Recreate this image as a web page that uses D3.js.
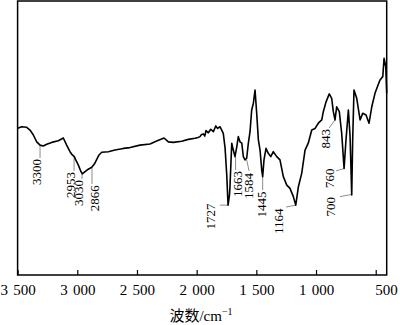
<!DOCTYPE html>
<html>
<head>
<meta charset="utf-8">
<script src="https://cdn.jsdelivr.net/npm/d3@7"></script>
<style>
  body { margin: 0; background: #fff; }
  text { font-family: "Liberation Serif", "Times New Roman", serif; }
</style>
</head>
<body>
<div id="chart"></div>
<script>
// IR spectrum (wavenumber cm-1, transmittance %)
var wavenumber = [3499, 3466, 3424, 3396, 3368, 3340, 3312, 3285, 3256, 3214, 3159, 3117, 3089, 3061,
    3042, 3025, 3013, 2991, 2969, 2958, 2935, 2908, 2879, 2857, 2837, 2818, 2795, 2740, 2684, 2614,
    2558, 2475, 2391, 2335, 2273, 2237, 2196, 2125, 2070, 2014, 1989, 1972, 1959, 1944, 1932, 1922,
    1902, 1882, 1860, 1840, 1824, 1804, 1790, 1777, 1762, 1748, 1737, 1725, 1721, 1706, 1693, 1679,
    1664, 1651, 1637, 1622, 1609, 1595, 1581, 1567, 1553, 1539, 1525, 1511, 1497, 1483, 1469, 1455,
    1447, 1436, 1419, 1400, 1379, 1358, 1329, 1302, 1274, 1245, 1218, 1190, 1170, 1148, 1120, 1092,
    1065, 1036, 1008, 981, 952, 939, 916, 889, 869, 855, 841, 827, 805, 785, 765, 749, 729, 715, 701,
    693, 682, 659, 631, 609, 581, 556, 533, 506, 486, 464, 441, 430, 416, 408];
var transmittance = [53.6, 54.1, 53.9, 52.9, 51.1, 48.6, 47.4, 47.1, 47.7, 48.4, 49.0, 50.0, 47.4, 45.0,
    43.8, 43.2, 42.0, 40.1, 37.7, 36.9, 37.7, 38.6, 39.3, 40.5, 42.2, 43.8, 44.8, 45.0, 45.6, 46.2,
    46.5, 47.4, 47.8, 48.9, 50.0, 48.6, 48.4, 48.8, 49.5, 49.9, 50.2, 50.5, 51.3, 51.5, 50.7, 52.7,
    51.9, 53.2, 52.3, 54.4, 53.5, 54.1, 52.9, 51.7, 46.4, 36.5, 25.5, 29.2, 32.2, 48.1, 45.6, 43.2,
    46.8, 50.5, 48.6, 48.1, 43.2, 42.0, 42.6, 48.1, 52.3, 60.2, 62.7, 67.5, 59.0, 49.3, 45.6, 38.3,
    35.9, 42.0, 46.2, 44.4, 43.2, 45.0, 43.2, 42.0, 35.9, 32.8, 31.6, 28.6, 25.5, 32.2, 37.1, 45.6,
    48.1, 52.9, 53.5, 55.4, 56.6, 59.6, 63.2, 66.1, 64.5, 59.6, 56.6, 61.4, 59.6, 51.7, 38.9, 49.3, 60.2, 50.7, 29.2,
    49.3, 67.5, 64.5, 56.6, 59.0, 58.4, 55.4, 61.4, 66.3, 68.7, 71.2, 72.4, 79.1, 76.0, 66.3];

var tickValues = [3500, 3000, 2500, 2000, 1500, 1000, 500];
var tickLabels = ["3 500", "3 000", "2 500", "2 000", "1 500", "1 000", "500"];

// peak labels: leader line from (lineW0, lineT0) to (lineW1, lineT1), text end at (textW, textT)
var peakText = ["3300", "2953", "3030", "2866", "1727", "1663", "1584", "1445", "1164", "843", "760", "700"];
var lineW0 = [3312, 3027, 2960, 2877, 1737, 1674, 1581, 1447, 1170, 841, 761, 701];
var lineT0 = [47.1, 43.1, 36.9, 39.4, 25.5, 43.1, 42.0, 35.8, 25.5, 56.6, 38.9, 29.4];
var lineW1 = [3312, 3027, 2960, 2877, 1805, 1674, 1561, 1447, 1251, 891, 832, 799];
var lineT1 = [42.7, 38.0, 35.0, 33.2, 25.5, 38.3, 38.0, 31.0, 24.8, 53.6, 38.0, 28.6];
var textW = [3308, 3023, 2948, 2814, 1846, 1624, 1528, 1423, 1274, 883, 853, 837];
var textT = [42.3, 37.6, 34.7, 32.8, 26.1, 38.0, 37.2, 30.5, 24.3, 53.3, 38.9, 28.5];

var width = 400, height = 325;
var plotLeft = 17.6, plotRight = 386.7, plotTop = 1, plotBottom = 275;

var x = d3.scaleLinear().domain([3500, 408]).range([plotLeft, plotRight]);
var y = d3.scaleLinear().domain([0, 100]).range([plotBottom, plotTop]);

var svg = d3.select("#chart")
    .append("svg")
    .attr("width", width)
    .attr("height", height);

// x axis with inward ticks
var axis = svg.append("g")
    .attr("transform", "translate(0," + plotBottom + ")")
    .call(d3.axisBottom(x)
        .tickValues(tickValues)
        .tickSizeInner(-5)
        .tickSizeOuter(0)
        .tickPadding(9)
        .tickFormat(function(d, i){ return tickLabels[i]; }));

axis.select(".domain").remove();
axis.selectAll(".tick line").attr("stroke", "#000").attr("stroke-width", 1.2);
axis.selectAll(".tick text")
    .attr("fill", "#000")
    .style("font-family", '"Liberation Serif", "Times New Roman", serif')
    .style("font-size", "15px")
    .style("word-spacing", "1.5px");
axis.selectAll(".tick text")
    .filter(function(d, i){ return i == tickValues.length - 1; })
    .attr("text-anchor", "start")
    .attr("x", -1);

// frame
svg.append("rect")
    .attr("x", plotLeft)
    .attr("y", plotTop)
    .attr("width", plotRight - plotLeft)
    .attr("height", plotBottom - plotTop)
    .attr("fill", "none")
    .attr("stroke", "#000")
    .attr("stroke-width", 1.5);

// leader lines
var peaks = d3.range(peakText.length);

svg.append("g")
    .selectAll("line")
    .data(peaks)
    .enter()
    .append("line")
    .attr("x1", function(i){ return x(lineW0[i]); })
    .attr("y1", function(i){ return y(lineT0[i]); })
    .attr("x2", function(i){ return x(lineW1[i]); })
    .attr("y2", function(i){ return y(lineT1[i]); })
    .attr("stroke", "#808080")
    .attr("stroke-width", 0.9);

// spectrum
var line = d3.line()
    .x(function(d, i){ return x(wavenumber[i]); })
    .y(function(d){ return y(d); });

svg.append("path")
    .datum(transmittance)
    .attr("d", line)
    .attr("fill", "none")
    .attr("stroke", "#000")
    .attr("stroke-width", 1.6)
    .attr("stroke-linejoin", "round");

// peak labels, rotated
svg.append("g")
    .selectAll("text")
    .data(peaks)
    .enter()
    .append("text")
    .attr("transform", function(i){
        return "translate(" + x(textW[i]) + "," + y(textT[i]) + ") rotate(-90)";
    })
    .attr("text-anchor", "end")
    .style("font-size", "13px")
    .attr("fill", "#000")
    .text(function(i){ return peakText[i]; });

// axis title
var title = svg.append("text")
    .attr("x", 201)
    .attr("y", 321)
    .attr("text-anchor", "middle")
    .style("font-size", "15px")
    .style("font-family", '"Liberation Serif", "Noto Sans CJK SC", serif');
title.append("tspan").text("波数/cm");
title.append("tspan")
    .attr("dy", -6)
    .style("font-size", "10px")
    .text("\u22121");
</script>
</body>
</html>
